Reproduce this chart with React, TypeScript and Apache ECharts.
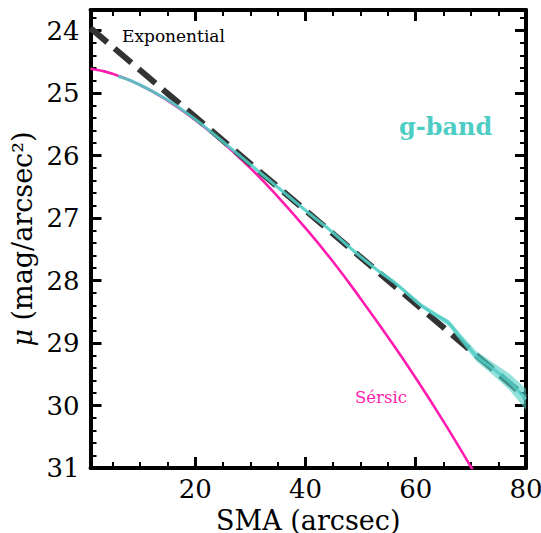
import React, { useEffect, useRef } from 'react';
import * as echarts from 'echarts';

const FONT = 'DejaVu Serif';
const CYAN = '#4ECDC4';
const PINK = '#FF1CAE';

// Axis ticks
const xMajorTicks = [20, 40, 60, 80];
const xMinorTicks = [5, 10, 15, 25, 30, 35, 45, 50, 55, 65, 70, 75];
const yMajorTicks = [24, 25, 26, 27, 28, 29, 30, 31];
const yMinorTicks = [
  23.8, 24.2, 24.4, 24.6, 24.8, 25.2, 25.4, 25.6, 25.8, 26.2, 26.4, 26.6, 26.8,
  27.2, 27.4, 27.6, 27.8, 28.2, 28.4, 28.6, 28.8, 29.2, 29.4, 29.6, 29.8,
  30.2, 30.4, 30.6, 30.8,
];

// Sérsic model
const sersicX = [1, 5, 10, 15, 20, 25, 30, 35, 40, 45, 50, 55, 60, 65, 70, 71];
const sersicY = [24.61, 24.69, 24.87, 25.12, 25.43, 25.79, 26.2, 26.66, 27.16, 27.7, 28.29, 28.91, 29.56, 30.25, 30.98, 31.13];

// Exponential model
const expX = [1, 80];
const expY = [23.96, 29.87];

// g-band profile
const gX = [6, 8, 10, 12, 15, 18, 20, 23, 26, 29, 32, 35, 38, 41, 44, 47, 50, 53, 56, 58, 61, 64, 66, 68, 71, 74, 77, 80];
const gY = [24.73, 24.79, 24.87, 24.96, 25.11, 25.29, 25.42, 25.63, 25.85, 26.07, 26.29, 26.51, 26.73, 26.95, 27.16, 27.39, 27.62, 27.83, 28.02, 28.17, 28.4, 28.57, 28.68, 28.9, 29.21, 29.41, 29.62, 29.9];
const gErr = [0.01, 0.01, 0.01, 0.01, 0.01, 0.01, 0.01, 0.01, 0.01, 0.01, 0.015, 0.015, 0.015, 0.015, 0.02, 0.02, 0.02, 0.02, 0.025, 0.03, 0.035, 0.04, 0.05, 0.06, 0.08, 0.1, 0.13, 0.17];

const xMin = 1;
const xMax = 80;
const yMin = 23.67;
const yMax = 31;

export default function App() {
  const ref = useRef<HTMLDivElement>(null);
  useEffect(() => {
    if (!ref.current) return;
    const chart = echarts.init(ref.current, undefined, { renderer: 'svg' });
    const baseX = {
      type: 'value',
      min: xMin,
      max: xMax,
      splitLine: { show: false },
    };
    const baseY = {
      type: 'value',
      min: yMin,
      max: yMax,
      inverse: true,
      splitLine: { show: false },
    };
    const majorTick = (vals: number[]) => ({
      show: true,
      inside: true,
      length: 11,
      lineStyle: { color: '#000', width: 3 },
      customValues: vals,
    });
    const minorTick = (vals: number[]) => ({
      show: true,
      inside: true,
      length: 6,
      lineStyle: { color: '#000', width: 2 },
      customValues: vals,
    });
    const frameLine = { show: true, onZero: false, lineStyle: { color: '#000', width: 4 } };
    const noLine = { show: false, onZero: false };
    const labelStyle = { fontFamily: FONT, fontSize: 26, color: '#000' };

    const xAxes: any[] = [
      {
        ...baseX,
        position: 'bottom',
        axisLine: frameLine,
        axisTick: majorTick(xMajorTicks),
        axisLabel: { ...labelStyle, margin: 8, customValues: xMajorTicks },
        name: 'SMA (arcsec)',
        nameLocation: 'middle',
        nameGap: 35,
        nameTextStyle: { fontFamily: FONT, fontSize: 27, color: '#000', lineHeight: 28 },
      },
      { ...baseX, position: 'bottom', axisLine: noLine, axisTick: minorTick(xMinorTicks), axisLabel: { show: false } },
      { ...baseX, position: 'top', axisLine: frameLine, axisTick: majorTick(xMajorTicks), axisLabel: { show: false } },
      { ...baseX, position: 'top', axisLine: noLine, axisTick: minorTick(xMinorTicks), axisLabel: { show: false } },
    ];
    const yAxes: any[] = [
      {
        ...baseY,
        position: 'left',
        axisLine: frameLine,
        axisTick: majorTick(yMajorTicks),
        axisLabel: { ...labelStyle, margin: 11, customValues: yMajorTicks },
        name: '{i|μ} (mag/arcsec²)',
        nameLocation: 'middle',
        nameGap: 42,
        nameRotate: 90,
        nameTextStyle: {
          fontFamily: FONT,
          fontSize: 27,
          color: '#000',
          rich: { i: { fontFamily: FONT, fontStyle: 'italic', fontSize: 27, color: '#000' } },
        },
      },
      { ...baseY, position: 'left', axisLine: noLine, axisTick: minorTick(yMinorTicks), axisLabel: { show: false } },
      { ...baseY, position: 'right', axisLine: frameLine, axisTick: majorTick(yMajorTicks), axisLabel: { show: false } },
      { ...baseY, position: 'right', axisLine: noLine, axisTick: minorTick(yMinorTicks), axisLabel: { show: false } },
    ];

    const sersicData = sersicX.map((x, i) => [x, sersicY[i]]);
    const expData = expX.map((x, i) => [x, expY[i]]);
    const gData = gX.map((x, i) => [x, gY[i]]);

    chart.setOption({
      animation: false,
      grid: { left: 90.5, right: 15, top: 10, bottom: 65, containLabel: false, outerBoundsMode: 'none' },
      xAxis: xAxes,
      yAxis: yAxes,
      series: [
        {
          type: 'line',
          name: 'Sersic',
          data: sersicData,
          smooth: true,
          showSymbol: false,
          symbol: 'none',
          lineStyle: { color: PINK, width: 2.6 },
          z: 2,
          clip: true,
        },
        {
          type: 'line',
          name: 'Exponential',
          data: expData,
          showSymbol: false,
          symbol: 'none',
          lineStyle: { color: '#333333', width: 6, type: [22, 9.6], cap: 'butt' },
          z: 3,
          clip: true,
        },
        {
          type: 'custom',
          name: 'band',
          data: [0],
          z: 4,
          silent: true,
          renderItem: (params: any, api: any) => {
            const pts: number[][] = [];
            for (let i = 0; i < gX.length; i++) pts.push(api.coord([gX[i], gY[i] - gErr[i]]));
            for (let i = gX.length - 1; i >= 0; i--) pts.push(api.coord([gX[i], gY[i] + gErr[i]]));
            return {
              type: 'polygon',
              shape: { points: pts },
              style: { fill: CYAN, opacity: 0.6 },
            };
          },
        },
        {
          type: 'line',
          name: 'g-band',
          data: gData,
          smooth: 0.2,
          showSymbol: false,
          symbol: 'none',
          lineStyle: { color: CYAN, width: 3.2, opacity: 0.8 },
          z: 5,
          clip: true,
        },
      ],
      graphic: [
        {
          type: 'text',
          left: 122,
          top: 27,
          style: { text: 'Exponential', fontFamily: FONT, fontSize: 17, fill: '#000' },
          z: 10,
        },
        {
          type: 'text',
          left: 355,
          top: 389,
          style: { text: 'Sérsic', fontFamily: FONT, fontSize: 16.5, fill: PINK },
          z: 10,
        },
        {
          type: 'text',
          left: 399,
          top: 114,
          style: { text: 'g-band', fontFamily: FONT, fontSize: 24, fontWeight: 'bold', fill: CYAN },
          z: 10,
        },
      ],
    });
    return () => chart.dispose();
  }, []);
  return <div ref={ref} style={{ position: 'absolute', left: 0, top: 0, width: 541, height: 533 }} />;
}
